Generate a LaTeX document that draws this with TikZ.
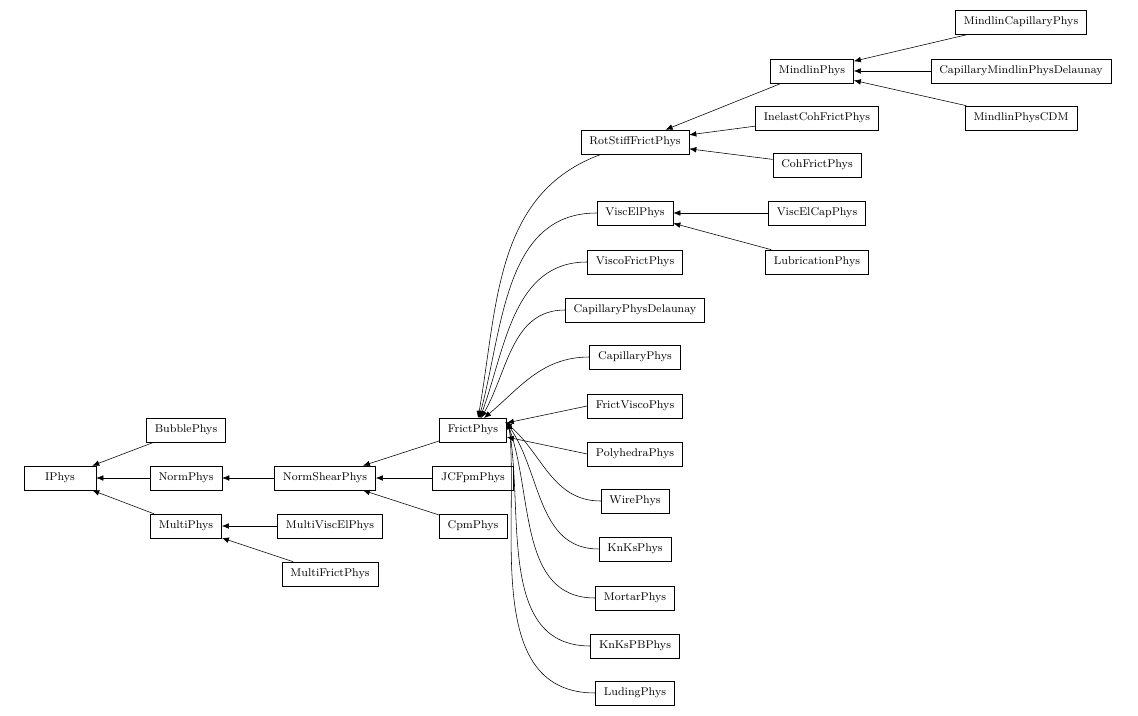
\documentclass[tikz,border=0pt]{standalone}
\usepackage{tikz}
\usetikzlibrary{arrows.meta}

\begin{document}
\begin{tikzpicture}[
    x=0.025cm, y=-0.025cm,
    every node/.style={rectangle, draw, minimum height=0.6cm, inner xsep=6pt, font=\footnotesize},
    arrow/.style={-{Latex[length=5pt,width=4pt]}, thin}
]
\useasboundingbox (0,0) rectangle (1138,716);

% Nodes
\node (iphys)     at (60,478)   [minimum width=1.8cm] {IPhys};
\node (bubble)    at (186,430)  {BubblePhys};
\node (norm)      at (186,478)  {NormPhys};
\node (multi)     at (186,526)  {MultiPhys};
\node (normshear) at (325,478)  {NormShearPhys};
\node (mviscel)   at (330,526)  {MultiViscElPhys};
\node (mfrict)    at (330,574)  {MultiFrictPhys};
\node (jcfpm)     at (473,478)  {JCFpmPhys};
\node (cpm)       at (473,526)  {CpmPhys};
\node (frict)     at (473,430)  {FrictPhys};
\node (rotstiff)  at (635,142)  {RotStiffFrictPhys};
\node (viscel)    at (635,213)  {ViscElPhys};
\node (viscofr)   at (635,262)  {ViscoFrictPhys};
\node (capdel)    at (635,310)  {CapillaryPhysDelaunay};
\node (cap)       at (635,357)  {CapillaryPhys};
\node (frvisco)   at (635,406)  {FrictViscoPhys};
\node (poly)      at (635,454)  {PolyhedraPhys};
\node (wire)      at (635,501)  {WirePhys};
\node (knks)      at (635,549)  {KnKsPhys};
\node (mortar)    at (635,598)  {MortarPhys};
\node (knkspb)    at (635,646)  {KnKsPBPhys};
\node (luding)    at (635,693)  {LudingPhys};
\node (mindlin)   at (812,71)   {MindlinPhys};
\node (inelast)   at (817,118)  {InelastCohFrictPhys};
\node (cohfrict)  at (817,165)  {CohFrictPhys};
\node (viscelcap) at (817,213)  {ViscElCapPhys};
\node (lubr)      at (817,262)  {LubricationPhys};
\node (mcap)      at (1021,22)  {MindlinCapillaryPhys};
\node (capmdel)   at (1021,71)  {CapillaryMindlinPhysDelaunay};
\node (mcdm)      at (1021,118) {MindlinPhysCDM};

% Arrows
\draw[arrow] (bubble) -- (iphys);
\draw[arrow] (norm) -- (iphys);
\draw[arrow] (multi) -- (iphys);
\draw[arrow] (normshear) -- (norm);
\draw[arrow] (mviscel) -- (multi);
\draw[arrow] (mfrict) -- (multi);
\draw[arrow] (frict) -- (normshear);
\draw[arrow] (jcfpm) -- (normshear);
\draw[arrow] (cpm) -- (normshear);
\draw[arrow] (mindlin) -- (rotstiff);
\draw[arrow] (inelast) -- (rotstiff);
\draw[arrow] (cohfrict) -- (rotstiff);
\draw[arrow] (viscelcap) -- (viscel);
\draw[arrow] (lubr) -- (viscel);
\draw[arrow] (mcap) -- (mindlin);
\draw[arrow] (capmdel) -- (mindlin);
\draw[arrow] (mcdm) -- (mindlin);
\draw[arrow] (rotstiff) to[out=200, in=80] (478,418);
\draw[arrow] (viscel.west) to[out=180, in=75] (479,418);
\draw[arrow] (viscofr.west) to[out=180, in=70] (480,418);
\draw[arrow] (capdel.west) to[out=180, in=60] (481,418);
\draw[arrow] (cap.west) to[out=180, in=40] (484,418);
\draw[arrow] (frvisco.west) -- (frict);
\draw[arrow] (poly.west) -- (frict);
\draw[arrow] (wire.west) to[out=180, in=-40] (505,422);
\draw[arrow] (knks.west) to[out=180, in=-55] (506,422);
\draw[arrow] (mortar.west) to[out=180, in=-70] (507,422);
\draw[arrow] (knkspb.west) to[out=180, in=-80] (508,422);
\draw[arrow] (luding.west) to[out=180, in=-85] (509,422);

\end{tikzpicture}
\end{document}
